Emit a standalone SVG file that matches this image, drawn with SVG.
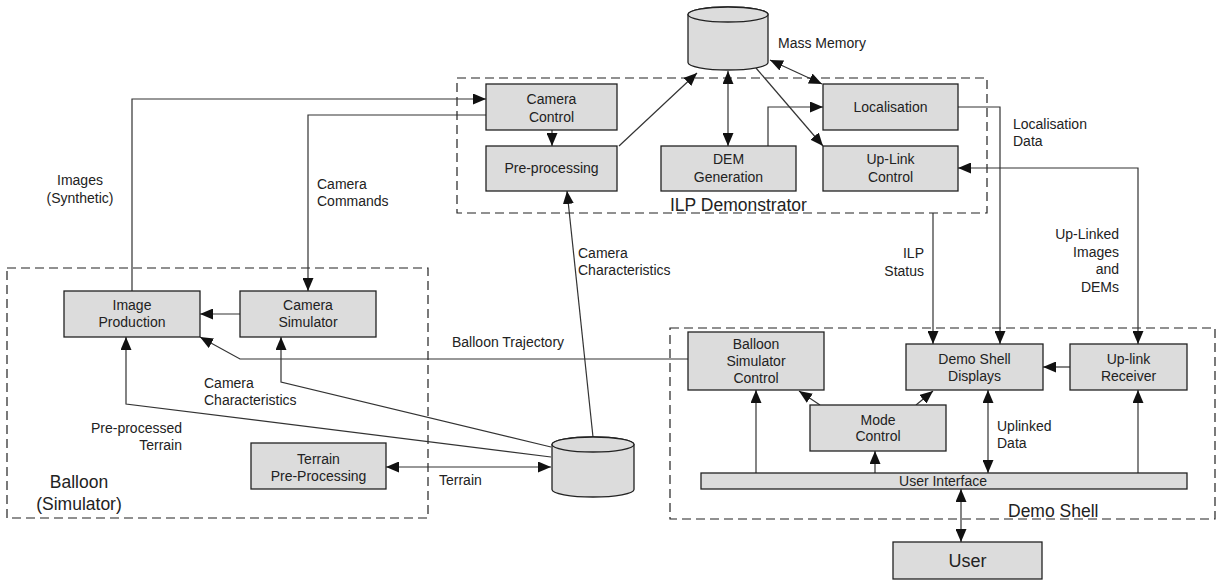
<svg xmlns="http://www.w3.org/2000/svg" width="1217" height="581" viewBox="0 0 1217 581">
  <style>
    .box { fill: #dcdcdc; stroke: #222; stroke-width: 1.3; }
    .grp { fill: none; stroke: #222; stroke-width: 1.2; stroke-dasharray: 9 5; }
    .ln { fill: none; stroke: #333; stroke-width: 1.2; }
    .one { marker-end: url(#ah); }
    .two { marker-start: url(#ah); marker-end: url(#ah); }
    text { font-family: "Liberation Sans", Arial, sans-serif; font-size: 14px; fill: #222; }
    .c { text-anchor: middle; }
    .r { text-anchor: end; }
    .big { font-size: 17.5px; }
  </style>
  <defs>
    <marker id="ah" viewBox="0 0 13 11" refX="13" refY="5.5" markerWidth="13" markerHeight="11" markerUnits="userSpaceOnUse" orient="auto-start-reverse">
      <path d="M0,0 L13,5.5 L0,11 z" fill="#111"/>
    </marker>
  </defs>

  <!-- subsystem boundaries -->
  <g id="groups">
    <rect id="ilp-demonstrator" class="grp" x="457" y="78" width="530" height="135"/>
    <rect id="balloon-simulator" class="grp" x="7" y="268" width="421" height="250"/>
    <rect id="demo-shell" class="grp" x="670" y="328" width="545" height="191"/>
    <text class="big" x="670" y="211">ILP Demonstrator</text>
    <text class="big c" x="79" y="488">Balloon</text>
    <text class="big c" x="79" y="510">(Simulator)</text>
    <text class="big" x="1008" y="517">Demo Shell</text>
  </g>

  <!-- connectors -->
  <g id="connectors">
    <!-- ILP internal -->
    <line class="ln one" x1="552" y1="130" x2="552" y2="146"/>
    <line class="ln one" x1="619" y1="146" x2="697" y2="73"/>
    <line class="ln two" x1="728" y1="71" x2="728" y2="146"/>
    <line class="ln two" x1="770" y1="60" x2="822" y2="84"/>
    <line class="ln one" x1="756" y1="68" x2="823" y2="146"/>
    <polyline class="ln one" points="768,146 768,107 823,107"/>
    <!-- ILP to Demo Shell -->
    <polyline class="ln one" points="958,107 1000,107 1000,344"/>
    <line class="ln one" x1="933" y1="213" x2="933" y2="344"/>
    <polyline class="ln two" points="958,168 1138,168 1138,344"/>
    <!-- ILP to Balloon -->
    <polyline class="ln one" points="132,291 132,99 486,99"/>
    <polyline class="ln one" points="486,115 308,115 308,291"/>
    <line class="ln one" x1="593" y1="437" x2="567" y2="191"/>
    <!-- Balloon internal -->
    <line class="ln one" x1="240" y1="314" x2="200" y2="314"/>
    <polyline class="ln one" points="688,359 240,359 200,337"/>
    <polyline class="ln one" points="551,447 281,382 281,337"/>
    <polyline class="ln one" points="551,457 126,404 126,337"/>
    <line class="ln two" x1="386" y1="467" x2="551" y2="467"/>
    <!-- Demo Shell internal -->
    <line class="ln one" x1="756" y1="473" x2="756" y2="390"/>
    <line class="ln one" x1="875" y1="473" x2="875" y2="451"/>
    <line class="ln two" x1="988" y1="390" x2="988" y2="473"/>
    <line class="ln one" x1="1138" y1="473" x2="1138" y2="390"/>
    <line class="ln two" x1="961" y1="489" x2="961" y2="542"/>
    <line class="ln one" x1="1070" y1="367" x2="1043" y2="367"/>
    <line class="ln one" x1="820" y1="405" x2="799" y2="391"/>
    <line class="ln one" x1="916" y1="405" x2="933" y2="391"/>
  </g>

  <!-- connector labels -->
  <g id="labels">
    <text x="778" y="48">Mass Memory</text>
    <text x="1013" y="129">Localisation</text>
    <text x="1013" y="146">Data</text>
    <text class="r" x="924" y="258">ILP</text>
    <text class="r" x="924" y="276">Status</text>
    <text class="r" x="1119" y="239">Up-Linked</text>
    <text class="r" x="1119" y="257">Images</text>
    <text class="r" x="1119" y="274">and</text>
    <text class="r" x="1119" y="292">DEMs</text>
    <text x="578" y="258">Camera</text>
    <text x="578" y="275">Characteristics</text>
    <text class="c" x="80" y="185">Images</text>
    <text class="c" x="80" y="203">(Synthetic)</text>
    <text x="317" y="189">Camera</text>
    <text x="317" y="206">Commands</text>
    <text x="452" y="347">Balloon Trajectory</text>
    <text x="204" y="388">Camera</text>
    <text x="204" y="405">Characteristics</text>
    <text class="r" x="182" y="433">Pre-processed</text>
    <text class="r" x="182" y="450">Terrain</text>
    <text x="439" y="485">Terrain</text>
    <text x="997" y="431">Uplinked</text>
    <text x="997" y="448">Data</text>
  </g>

  <!-- ILP Demonstrator nodes -->
  <g id="mass-memory">
    <path class="box" d="M688,14.5 A40,7.5 0 0 1 768,14.5 V62.5 A40,7.5 0 0 1 688,62.5 Z"/>
    <ellipse class="box" cx="728" cy="14.5" rx="40" ry="7.5"/>
  </g>
  <g id="camera-control">
    <rect class="box" x="486" y="84" width="131" height="46"/>
    <text class="c" x="551.5" y="104">Camera</text>
    <text class="c" x="551.5" y="122">Control</text>
  </g>
  <g id="pre-processing">
    <rect class="box" x="486" y="146" width="131" height="45"/>
    <text class="c" x="551.5" y="173">Pre-processing</text>
  </g>
  <g id="dem-generation">
    <rect class="box" x="661" y="146" width="135" height="45"/>
    <text class="c" x="728.5" y="164">DEM</text>
    <text class="c" x="728.5" y="182">Generation</text>
  </g>
  <g id="localisation">
    <rect class="box" x="823" y="84" width="135" height="46"/>
    <text class="c" x="890.5" y="112">Localisation</text>
  </g>
  <g id="up-link-control">
    <rect class="box" x="823" y="146" width="135" height="45"/>
    <text class="c" x="890.5" y="164">Up-Link</text>
    <text class="c" x="890.5" y="182">Control</text>
  </g>

  <!-- Balloon (Simulator) nodes -->
  <g id="image-production">
    <rect class="box" x="64" y="291" width="136" height="46"/>
    <text class="c" x="132" y="310">Image</text>
    <text class="c" x="132" y="327">Production</text>
  </g>
  <g id="camera-simulator">
    <rect class="box" x="240" y="291" width="136" height="46"/>
    <text class="c" x="308" y="310">Camera</text>
    <text class="c" x="308" y="327">Simulator</text>
  </g>
  <g id="terrain-pre-processing">
    <rect class="box" x="251" y="443" width="135" height="46"/>
    <text class="c" x="318.5" y="464">Terrain</text>
    <text class="c" x="318.5" y="481">Pre-Processing</text>
  </g>
  <g id="terrain-store">
    <path class="box" d="M552,444.5 A41,7.5 0 0 1 634,444.5 V489.5 A41,7.5 0 0 1 552,489.5 Z"/>
    <ellipse class="box" cx="593" cy="444.5" rx="41" ry="7.5"/>
  </g>

  <!-- Demo Shell nodes -->
  <g id="balloon-simulator-control">
    <rect class="box" x="688" y="332" width="136" height="58"/>
    <text class="c" x="756" y="349">Balloon</text>
    <text class="c" x="756" y="366">Simulator</text>
    <text class="c" x="756" y="383">Control</text>
  </g>
  <g id="demo-shell-displays">
    <rect class="box" x="906" y="344" width="137" height="46"/>
    <text class="c" x="974.5" y="364">Demo Shell</text>
    <text class="c" x="974.5" y="381">Displays</text>
  </g>
  <g id="up-link-receiver">
    <rect class="box" x="1070" y="344" width="117" height="46"/>
    <text class="c" x="1128.5" y="364">Up-link</text>
    <text class="c" x="1128.5" y="381">Receiver</text>
  </g>
  <g id="mode-control">
    <rect class="box" x="810" y="405" width="136" height="46"/>
    <text class="c" x="878" y="425">Mode</text>
    <text class="c" x="878" y="441">Control</text>
  </g>
  <g id="user-interface">
    <rect class="box" x="701" y="473" width="486" height="16"/>
    <text class="c" x="943" y="486">User Interface</text>
  </g>
  <g id="user">
    <rect class="box" x="893" y="542" width="149" height="37"/>
    <text class="c" x="967.5" y="567" style="font-size:18px">User</text>
  </g>
</svg>
